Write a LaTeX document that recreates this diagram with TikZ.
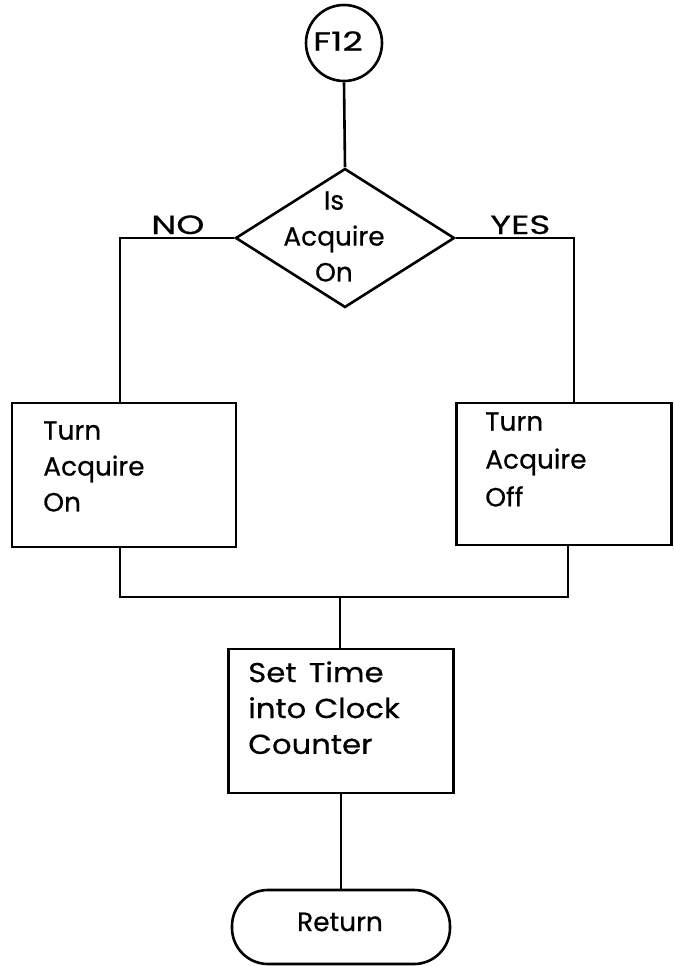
\documentclass[tikz,border=0pt]{standalone}
\usepackage{fontspec}
\setmainfont{Poppins}[FakeBold=0.5]
\usetikzlibrary{shapes.geometric}
\begin{document}
\begin{tikzpicture}[x=1bp, y=-1bp, line width=2.6bp,
  every node/.style={inner sep=0pt, font=\fontsize{26.5}{36}\selectfont},
  widecaps/.style={font=\fontsize{26.5}{36}\selectfont\addfontfeatures{FakeStretch=1.35}},
  stepbox/.style={draw, rectangle, minimum width=#1, minimum height=144bp},
  boxtext/.style={anchor=north west, align=left},
  decision/.style={draw, diamond, minimum width=219bp, minimum height=139bp},
  connector/.style={draw, circle, minimum size=76bp},
  terminal/.style={draw, rectangle, rounded corners=36bp, minimum width=218bp, minimum height=74bp},
  flow/.style={line join=miter}]
\useasboundingbox (0,0) rectangle (674,966);

% entry connector and decision
\node[connector] (f12) at (344,43) {};
\node[widecaps] (f12text) at (338,41) {F12};
\node[decision] (dec) at (345,238) {};
\node[anchor=north, align=center] (dectext) at (334,190) {Is\\Acquire\\On};
\node[widecaps, anchor=base west] (no) at (150,234) {NO};
\node[widecaps, anchor=base west] (yes) at (489,234) {YES};

% the two branches
\node[stepbox=224bp] (lbox) at (124,475) {};
\node[boxtext] (ltext) at (42,420) {Turn\\Acquire\\On};
\node[stepbox=215bp, minimum height=142bp] (rbox) at (564,474) {};
\node[boxtext, font=\fontsize{26.5}{38}\selectfont] (rtext) at (484,411) {Turn\\Acquire\\Off};

% common tail
\node[stepbox=225bp] (setbox) at (341,721) {};
\node[boxtext, font=\fontsize{27.5}{36}\selectfont\addfontfeatures{FakeStretch=1.12}] (settext) at (247,660) {Set\hspace{0.45em}Time\\into Clock\\Counter};
\node[terminal] (ret) at (341,927) {};
\node (rettext) at (340,922) {Return};

\coordinate (join) at (340,597);

% connectors
\draw[flow] (f12.south) -- (dec.north);
\draw[flow] (dec.west) -| ([xshift=-4bp]lbox.north);
\draw[flow] (dec.east) -| ([xshift=10bp]rbox.north);
\draw[flow] ([xshift=-4bp]lbox.south) |- (join) -| ([xshift=4bp]rbox.south);
\draw[flow] (join) -- (join |- setbox.north);
\draw[flow] (setbox.south) -- (ret.north);
\end{tikzpicture}
\end{document}
